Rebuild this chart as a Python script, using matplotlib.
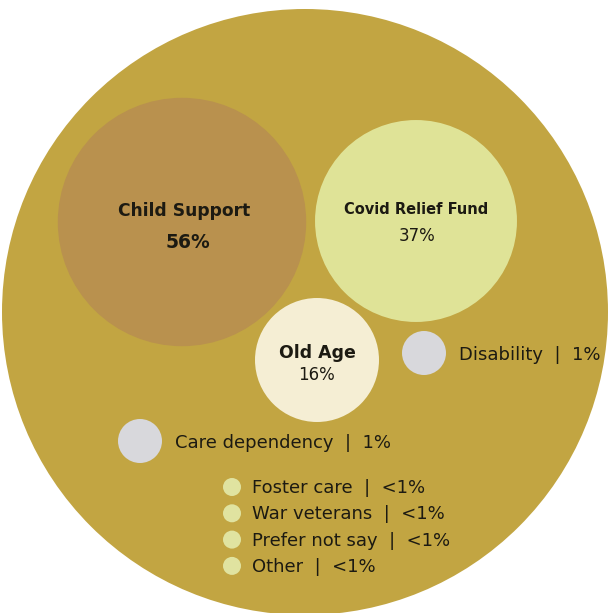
import matplotlib

matplotlib.use("Agg")
from matplotlib import pyplot as plt
from matplotlib.patches import Circle
import numpy as np

# grant types and share of respondents (%), multiple answers allowed
big_names = ["Child Support", "Covid Relief Fund", "Old Age"]
big_values = [56, 37, 16]

mid_names = ["Disability", "Care dependency"]
mid_values = [1, 1]

small_names = ["Foster care", "War veterans", "Prefer not say", "Other"]
small_labels = ["<1%", "<1%", "<1%", "<1%"]

GOLD = "#C2A542"
TEXT = "#1c1a12"

plt.rcParams["font.family"] = ["DejaVu Sans"]

fig = plt.figure(figsize=(6.09, 6.13), dpi=100)
ax = fig.add_axes([0, 0, 1, 1])
ax.set_xlim(0, 609)
ax.set_ylim(613, 0)
ax.set_aspect("equal")
ax.axis("off")

# outer container
ax.add_patch(Circle((305, 312), 303, color=GOLD, lw=0))


def radius(v):
    return max(16.6 * np.sqrt(v), 22)


# main bubbles
big_centres = [(182, 222), (416, 221), (317, 360)]
big_colours = ["#B9914E", "#DFE397", "#F5EED4"]
for (cx, cy), v, c in zip(big_centres, big_values, big_colours):
    ax.add_patch(Circle((cx, cy), radius(v) if v != 16 else 62, color=c, lw=0))

ax.text(184, 211, big_names[0], ha="center", va="center", fontsize=12.3,
        fontweight="bold", color=TEXT)
ax.text(188, 242, "{}%".format(big_values[0]), ha="center", va="center",
        fontsize=13.5, fontweight="bold", color=TEXT)
ax.text(416, 210, big_names[1], ha="center", va="center", fontsize=10.5,
        fontweight="bold", color=TEXT)
ax.text(417, 236, "{}%".format(big_values[1]), ha="center", va="center",
        fontsize=12, color=TEXT)
ax.text(317, 353, big_names[2], ha="center", va="center", fontsize=12.5,
        fontweight="bold", color=TEXT)
ax.text(317, 375, "{}%".format(big_values[2]), ha="center", va="center",
        fontsize=12, color=TEXT)

# 1% bubbles with labels beside them
mid_centres = [(424, 353), (140, 441)]
for (cx, cy), name, v in zip(mid_centres, mid_names, mid_values):
    ax.add_patch(Circle((cx, cy), radius(v), color="#D8D8DC", lw=0))
    ax.text(cx + 35, cy + 2, "{}  |  {}%".format(name, v), ha="left",
            va="center", fontsize=13, color=TEXT)

# the rest listed as dots
for i, (name, lab) in enumerate(zip(small_names, small_labels)):
    y = 487 + i * 26.3
    ax.add_patch(Circle((232, y), 9, color="#E0E3A0", lw=0))
    ax.text(252, y + 1, "{}  |  {}".format(name, lab), ha="left", va="center",
            fontsize=13, color=TEXT)

plt.savefig("out.png", dpi=100)
